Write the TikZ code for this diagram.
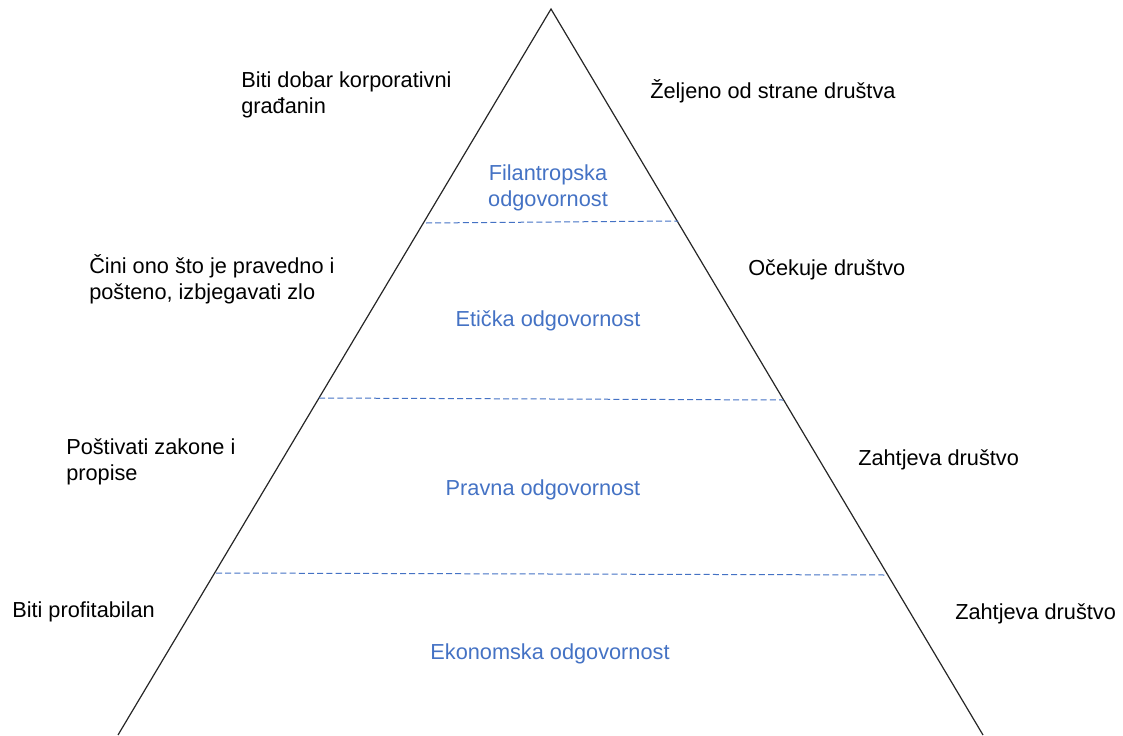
\documentclass[tikz,border=0pt]{standalone}
\usepackage{fontspec}
\setmainfont{Liberation Sans}
\usetikzlibrary{positioning}

\definecolor{levelblue}{RGB}{68,114,196}

\begin{document}
\begin{tikzpicture}[x=0.75pt,y=-0.75pt,
    font=\fontsize{16.3}{19.3}\selectfont,
    side/.style={anchor=west,align=left,inner sep=0pt},
    level/.style={align=center,inner sep=0pt,text=levelblue},
    divider/.style={levelblue,line width=0.75pt,dash pattern=on 4.5pt off 2.4pt}]
    \useasboundingbox (0,0) rectangle (1123,735);

    % pyramid
    \coordinate (apex) at (551,9);
    \coordinate (baseleft) at (118,735);
    \coordinate (baseright) at (983,735);
    \draw[line width=0.9pt,black!85] (baseleft) -- (apex) -- (baseright);

    % level dividers
    \coordinate (d1l) at (426,223);
    \coordinate (d1r) at (678,221);
    \coordinate (d2l) at (319,398);
    \coordinate (d2r) at (783,400);
    \coordinate (d3l) at (216,573);
    \coordinate (d3r) at (886,575);
    \draw[divider] (d1l) -- (d1r);
    \draw[divider] (d2l) -- (d2r);
    \draw[divider] (d3l) -- (d3r);

    % levels
    \node[level] (philanthropic) at (548,188) {Filantropska\\odgovornost};
    \node[level] (ethical) at (548,321) {Etička odgovornost};
    \node[level] (legal) at (543,490) {Pravna odgovornost};
    \node[level] (economic) at (550,654) {Ekonomska odgovornost};

    % left side
    \node[side] (citizen) at (241,95) {Biti dobar korporativni\\građanin};
    \node[side] (fair) at (89,279) {Čini ono što je pravedno i\\pošteno, izbjegavati zlo};
    \node[side] (laws) at (66,462) {Poštivati zakone i\\propise};
    \node[side] (profit) at (12,612) {Biti profitabilan};

    % right side
    \node[side] (desired) at (650,91) {Željeno od strane društva};
    \node[side] (expected) at (748,270) {Očekuje društvo};
    \node[side] (required) at (858,460) {Zahtjeva društvo};
    \node[side] (required2) at (955,614) {Zahtjeva društvo};
\end{tikzpicture}
\end{document}
